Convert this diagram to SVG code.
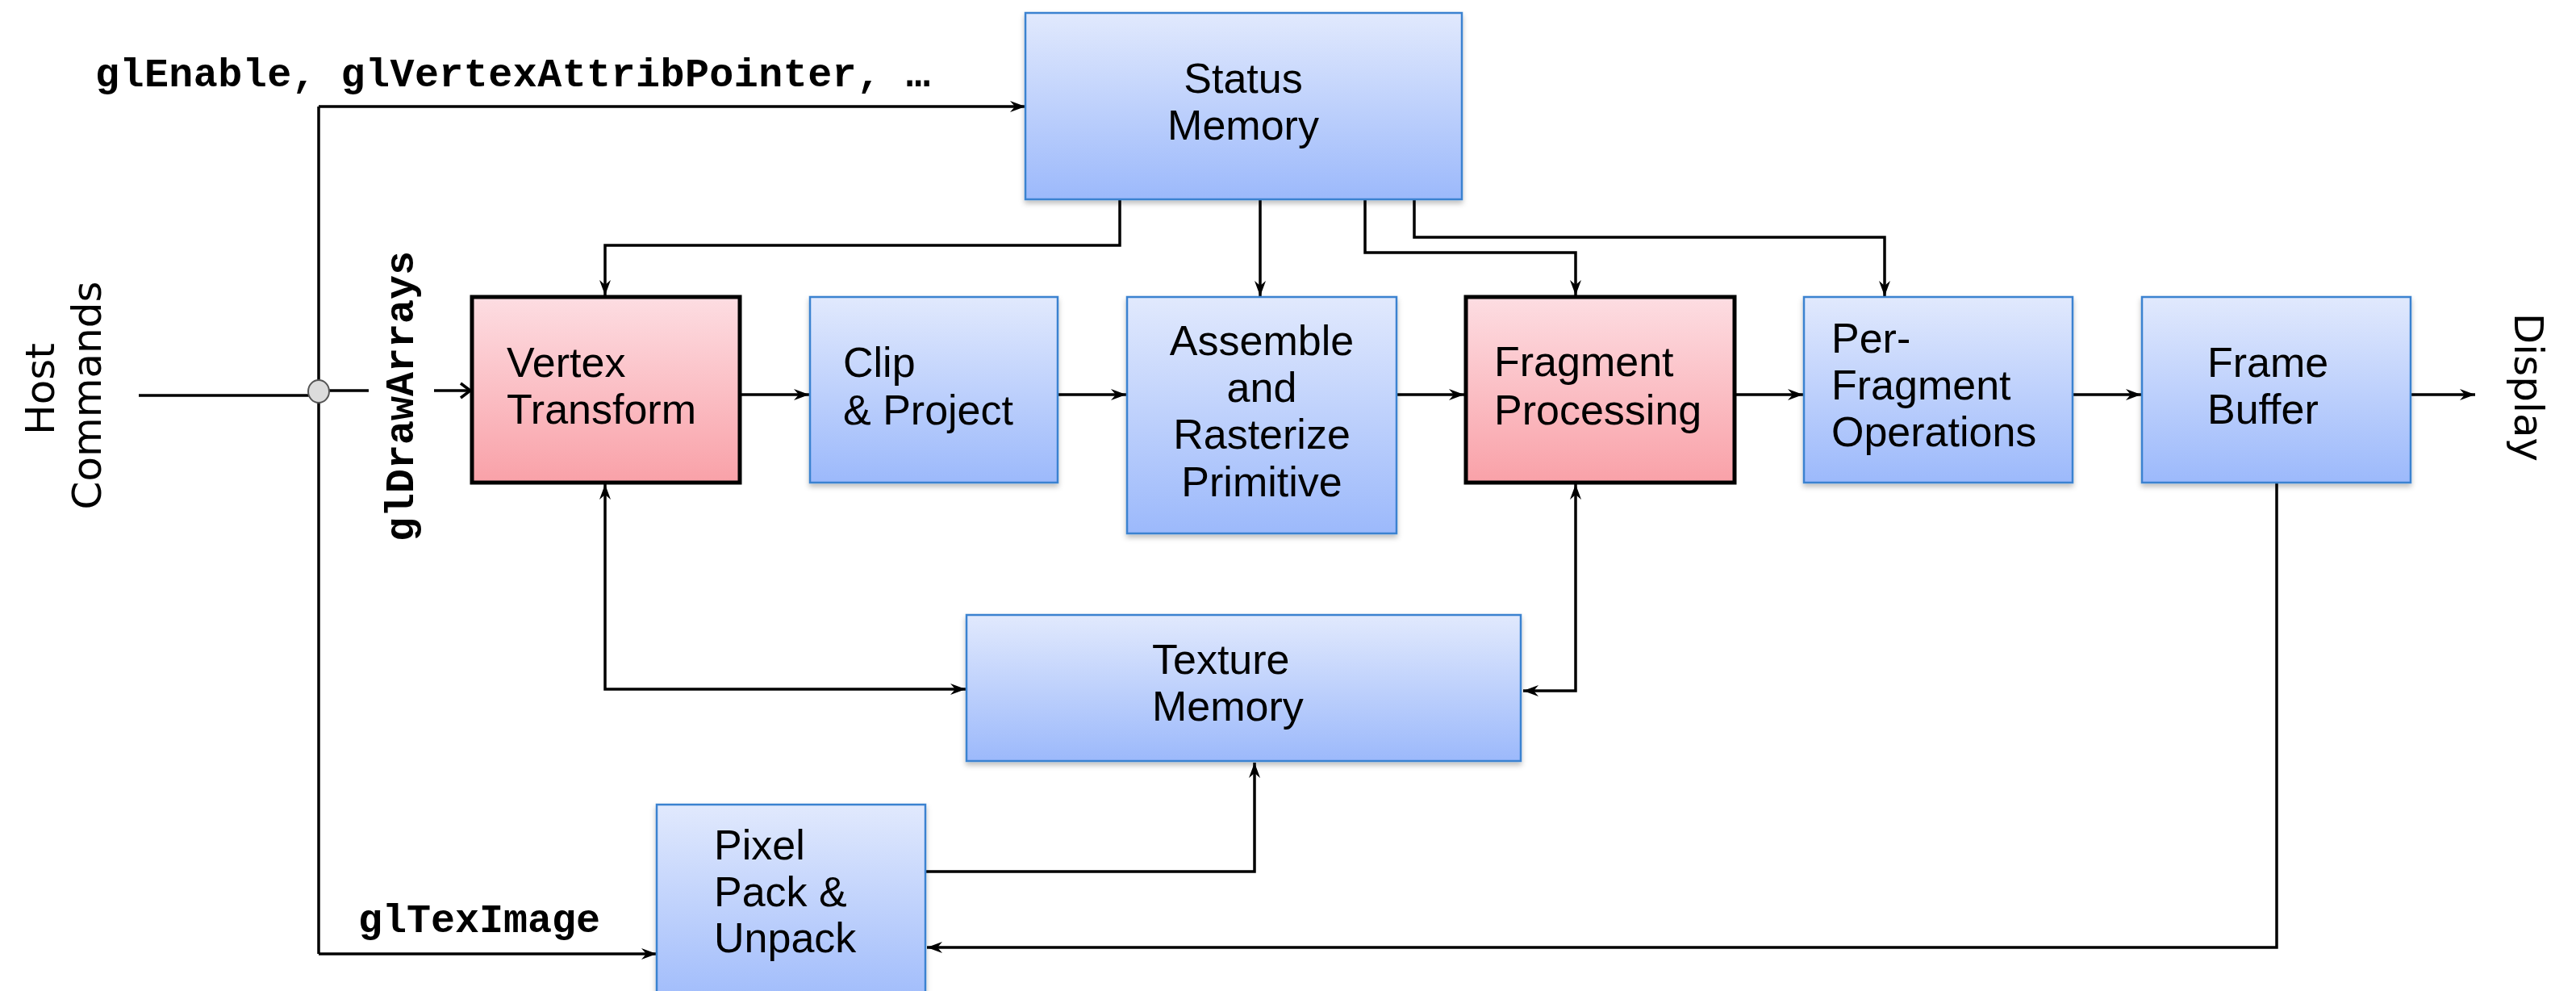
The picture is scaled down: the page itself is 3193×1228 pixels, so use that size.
<svg xmlns="http://www.w3.org/2000/svg" width="3193" height="1228" viewBox="0 0 3193 1228">
<style>
.blue{fill:url(#gBlue);stroke:#3b82d0;stroke-width:2.5;filter:url(#sh)}
.pink{fill:url(#gPink);stroke:#000;stroke-width:5}
.lbl{font-family:"Liberation Sans",Arial,sans-serif;font-size:52px;fill:#000}
.mono{font-family:"Liberation Mono","Courier New",monospace;font-weight:bold;font-size:50px;fill:#000}
.side{font-family:"DejaVu Sans",Verdana,sans-serif;font-size:50px;fill:#000}
.ln{fill:none;stroke:#000;stroke-width:3.5}
.ar{marker-end:url(#ah)}
</style>
<defs>
<linearGradient id="gBlue" x1="0" y1="0" x2="0" y2="1">
<stop offset="0" stop-color="#e1e9fd"/>
<stop offset="1" stop-color="#9cb9fb"/>
</linearGradient>
<linearGradient id="gPink" x1="0" y1="0" x2="0" y2="1">
<stop offset="0" stop-color="#fddde2"/>
<stop offset="1" stop-color="#f9a1a8"/>
</linearGradient>
<filter id="sh" x="-5%" y="-5%" width="110%" height="115%">
<feDropShadow dx="0" dy="4" stdDeviation="3" flood-color="#000" flood-opacity="0.25"/>
</filter>
<marker id="ah" markerUnits="userSpaceOnUse" markerWidth="24" markerHeight="20" viewBox="-20 -10 24 20" refX="0" refY="0" orient="auto">
<path d="M0,0 L-19,-7 L-13,0 L-19,7 Z" fill="#000"/>
</marker>
<marker id="ahs" markerUnits="userSpaceOnUse" markerWidth="24" markerHeight="20" viewBox="-20 -10 24 20" refX="0" refY="0" orient="auto-start-reverse">
<path d="M0,0 L-19,-7 L-13,0 L-19,7 Z" fill="#000"/>
</marker>
<marker id="open" markerUnits="userSpaceOnUse" markerWidth="24" markerHeight="24" viewBox="-20 -12 24 24" refX="0" refY="0" orient="auto">
<path d="M-12,-9 L0,0 L-12,9" fill="none" stroke="#000" stroke-width="3.5"/>
</marker>
</defs>

<g id="connectors">
<line class="ln" x1="172" y1="490" x2="383" y2="490"/>
<line class="ln" x1="407" y1="484" x2="457" y2="484"/>
<line class="ln" x1="538" y1="484" x2="583" y2="484" marker-end="url(#open)"/>
<polyline class="ln" points="395,1182 395,132"/>
<line class="ln ar" x1="395" y1="132" x2="1271" y2="132"/>
<line class="ln ar" x1="395" y1="1182" x2="814" y2="1182"/>
<polyline class="ln ar" points="1388,247 1388,304 750,304 750,366"/>
<polyline class="ln ar" points="1562,247 1562,367"/>
<polyline class="ln ar" points="1692,247 1692,313 1953,313 1953,366"/>
<polyline class="ln ar" points="1753,247 1753,294 2336,294 2336,367"/>
<line class="ln ar" x1="917" y1="489" x2="1003" y2="489"/>
<line class="ln ar" x1="1311" y1="489" x2="1396" y2="489"/>
<line class="ln ar" x1="1731" y1="489" x2="1815" y2="489"/>
<line class="ln ar" x1="2150" y1="489" x2="2235" y2="489"/>
<line class="ln ar" x1="2569" y1="489" x2="2654" y2="489"/>
<line class="ln ar" x1="2988" y1="489" x2="3068" y2="489"/>
<polyline class="ln ar" points="750,600 750,854 1197,854" marker-start="url(#ahs)"/>
<polyline class="ln ar" points="1953,600 1953,856 1888,856" marker-start="url(#ahs)"/>
<polyline class="ln ar" points="1147,1080 1555,1080 1555,945"/>
<polyline class="ln ar" points="2822,599 2822,1174 1149,1174"/>
<ellipse cx="395" cy="485" rx="13" ry="14" fill="#dcdcdc" stroke="#555" stroke-width="2"/>
</g>

<g id="status-memory">
<rect class="blue" x="1271" y="16" width="541" height="231"/>
<text class="lbl" x="1541" y="115" text-anchor="middle">Status</text>
<text class="lbl" x="1541" y="173" text-anchor="middle">Memory</text>
</g>

<g id="vertex-transform">
<rect class="pink" x="585" y="368" width="332" height="230"/>
<text class="lbl" x="628" y="467">Vertex</text>
<text class="lbl" x="628" y="525">Transform</text>
</g>

<g id="clip-project">
<rect class="blue" x="1004" y="368" width="307" height="230"/>
<text class="lbl" x="1045" y="467">Clip</text>
<text class="lbl" x="1045" y="526">&amp; Project</text>
</g>

<g id="assemble">
<rect class="blue" x="1397" y="368" width="334" height="293"/>
<text class="lbl" x="1564" y="440" text-anchor="middle">Assemble</text>
<text class="lbl" x="1564" y="498" text-anchor="middle">and</text>
<text class="lbl" x="1564" y="556" text-anchor="middle">Rasterize</text>
<text class="lbl" x="1564" y="615" text-anchor="middle">Primitive</text>
</g>

<g id="fragment-processing">
<rect class="pink" x="1817" y="368" width="333" height="230"/>
<text class="lbl" x="1852" y="466">Fragment</text>
<text class="lbl" x="1852" y="526">Processing</text>
</g>

<g id="per-fragment">
<rect class="blue" x="2236" y="368" width="333" height="230"/>
<text class="lbl" x="2270" y="437">Per-</text>
<text class="lbl" x="2270" y="495">Fragment</text>
<text class="lbl" x="2270" y="553">Operations</text>
</g>

<g id="frame-buffer">
<rect class="blue" x="2655" y="368" width="333" height="230"/>
<text class="lbl" x="2736" y="467">Frame</text>
<text class="lbl" x="2736" y="525">Buffer</text>
</g>

<g id="texture-memory">
<rect class="blue" x="1198" y="762" width="687" height="181"/>
<text class="lbl" x="1428" y="835">Texture</text>
<text class="lbl" x="1428" y="893">Memory</text>
</g>

<g id="pixel-pack">
<rect class="blue" x="814" y="997" width="333" height="260"/>
<text class="lbl" x="885" y="1065">Pixel</text>
<text class="lbl" x="885" y="1123">Pack &amp;</text>
<text class="lbl" x="885" y="1180">Unpack</text>
</g>

<g id="labels">
<text class="mono" x="118" y="107" textLength="1035" lengthAdjust="spacing">glEnable, glVertexAttribPointer, …</text>
<text class="mono" x="444" y="1155">glTexImage</text>
<text class="mono" transform="translate(512,491) rotate(-90)" text-anchor="middle">glDrawArrays</text>
<text class="side" transform="translate(67,482) rotate(-90)" text-anchor="middle">Host</text>
<text class="side" transform="translate(125,490) rotate(-90)" text-anchor="middle">Commands</text>
<text class="side" transform="translate(3117,480) rotate(90)" text-anchor="middle">Display</text>
</g>
</svg>
